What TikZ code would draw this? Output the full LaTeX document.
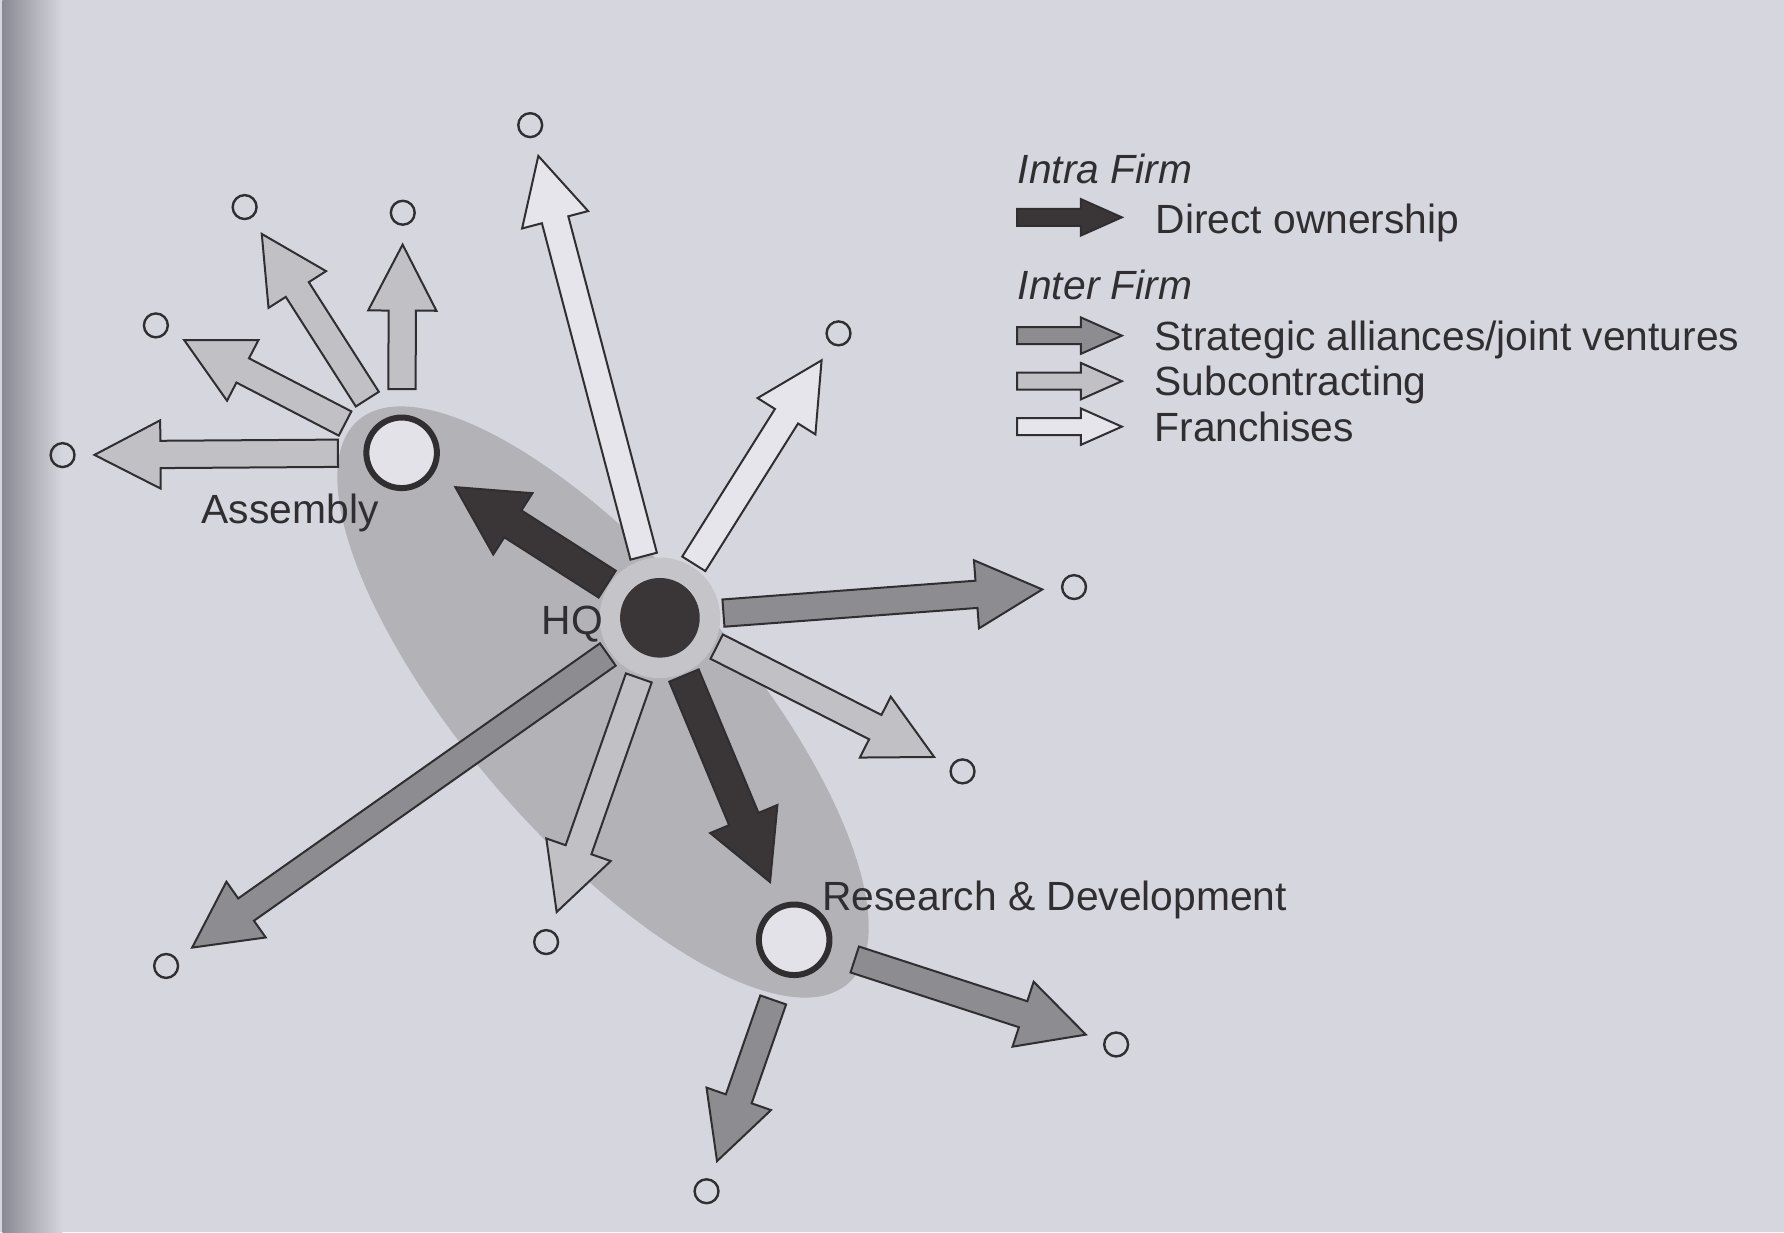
\documentclass[tikz,border=0pt]{standalone}
\usepackage{fontspec}
\newfontfamily\figfont{Liberation Sans}
\usetikzlibrary{calc}

\definecolor{page}{RGB}{214,214,222}
\definecolor{edge}{RGB}{138,138,148}
\definecolor{blob}{RGB}{178,178,183}
\definecolor{halo}{RGB}{196,196,201}
\definecolor{paper}{RGB}{226,226,232}
\definecolor{ink}{RGB}{48,46,48}
\definecolor{direct}{RGB}{58,54,56}
\definecolor{strat}{RGB}{140,140,145}
\definecolor{subc}{RGB}{192,192,197}
\definecolor{franch}{RGB}{229,229,235}

\tikzset{
  blk/.style={draw=ink, line width=0.5pt, line join=miter},
  site/.style={circle, draw=ink, line width=1.5pt, fill=paper, minimum size=6.2mm, inner sep=0pt},
  hub/.style={circle, fill=direct, minimum size=7.0mm, inner sep=0pt},
  halo/.style={circle, fill=halo, minimum size=10.6mm, inner sep=0pt},
  dot/.style={circle, draw=ink, line width=0.6pt, minimum size=2.1mm, inner sep=0pt},
  lbl/.style={font=\figfont\fontsize{10.2}{12}\selectfont, text=ink, inner sep=0pt}
}

\newcommand{\shaftw}{0.12cm}
\newcommand{\headw}{0.30cm}
\newcommand{\headl}{0.58cm}
% block arrow: options, from, to, gap at tail, gap at tip
\newcommand{\blockarr}[5]{%
  \path ($(#2)!#4!(#3)$) coordinate (ba-t)
        ($(#3)!#5!(#2)$) coordinate (ba-p);
  \path ($(ba-p)!\headl!(ba-t)$) coordinate (ba-h);
  \draw[blk,#1] ($(ba-t)!\shaftw!90:(ba-p)$) -- ($(ba-h)!\shaftw!-90:(ba-t)$)
    -- ($(ba-h)!\headw!-90:(ba-t)$) -- (ba-p) -- ($(ba-h)!\headw!90:(ba-t)$)
    -- ($(ba-h)!\shaftw!90:(ba-t)$) -- ($(ba-t)!\shaftw!-90:(ba-p)$) -- cycle;
}

\begin{document}
\begin{tikzpicture}
  \fill[page] (0,0) rectangle (15.68,-10.83);
  \shade[left color=edge, right color=page] (0.02,0) rectangle (0.55,-10.83);
  \useasboundingbox (0,0) rectangle (15.68,-10.83);

  % the firm
  \fill[blob, rotate around={-49:(5.30,-6.17)}] (5.30,-6.17) ellipse (3.28 and 1.20);
  \node[halo] (hq-h) at (5.80,-5.43) {};
  \node[hub] (hq) at (hq-h) {};
  \node[site] (asm) at (3.53,-3.98) {};
  \node[site] (rnd) at (6.98,-8.26) {};

  % partners
  \foreach \n/\x/\y in {t1/4.66/-1.10, t2/2.15/-1.82, t3/3.54/-1.87, t4/1.37/-2.86,
      t5/0.55/-4.00, t6/7.37/-2.93, t7/9.44/-5.16, t8/8.46/-6.78, t9/1.46/-8.49,
      t10/4.80/-8.28, t11/9.81/-9.18, t12/6.21/-10.47}
    \node[dot] (\n) at (\x,\y) {};

  \foreach \c/\a/\b in {subc/asm/t5, subc/asm/t4, subc/asm/t2, subc/asm/t3,
      franch/hq/t1, franch/hq/t6, strat/hq/t7, subc/hq/t8, subc/hq/t10,
      strat/hq/t9, strat/rnd/t11, strat/rnd/t12}
    \blockarr{fill=\c}{\a}{\b}{0.56cm}{0.28cm};

  \begin{scope}
    \renewcommand{\shaftw}{0.14cm}
    \renewcommand{\headw}{0.32cm}
    \renewcommand{\headl}{0.60cm}
    \blockarr{fill=direct}{hq}{asm}{0.55cm}{0.56cm}
    \blockarr{fill=direct}{hq}{rnd}{0.55cm}{0.55cm}
  \end{scope}

  \node[lbl, anchor=base] (hq-l) at (5.03,-5.58) {HQ};
  \node[lbl, anchor=base] (asm-l) at (2.55,-4.60) {Assembly};
  \node[lbl, anchor=base west] (rnd-l) at (7.22,-8.00) {Research \& Development};

  % key
  \foreach \n/\y in {k1/-1.91, k2/-2.95, k3/-3.35, k4/-3.75} {
    \coordinate (\n a) at (8.94,\y);
    \coordinate (\n b) at (9.86,\y);
  }
  \begin{scope}
    \renewcommand{\shaftw}{0.075cm}
    \renewcommand{\headw}{0.16cm}
    \renewcommand{\headl}{0.36cm}
    \foreach \c/\n in {direct/k1, strat/k2, subc/k3, franch/k4}
      \blockarr{fill=\c}{\n a}{\n b}{0pt}{0pt};
  \end{scope}
  \node[lbl, anchor=base west] (intra) at (8.94,-1.61) {\itshape Intra Firm};
  \node[lbl, anchor=base west] (k1-l) at (10.15,-2.05) {Direct ownership};
  \node[lbl, anchor=base west] (inter) at (8.94,-2.63) {\itshape Inter Firm};
  \node[lbl, anchor=base west] (k2-l) at (10.14,-3.08) {Strategic alliances/joint ventures};
  \node[lbl, anchor=base west] (k3-l) at (10.14,-3.48) {Subcontracting};
  \node[lbl, anchor=base west] (k4-l) at (10.14,-3.88) {Franchises};
\end{tikzpicture}
\end{document}
